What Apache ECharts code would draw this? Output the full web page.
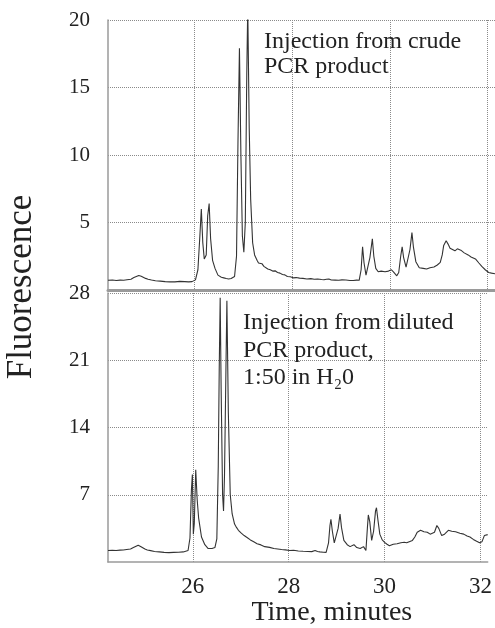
<!DOCTYPE html>
<html>
<head>
<meta charset="utf-8">
<script src="https://cdn.jsdelivr.net/npm/echarts@6/dist/echarts.min.js"></script>
<style>html,body{margin:0;padding:0;background:#fff}#c{width:495px;height:628px}</style>
</head>
<body>
<div id="c"></div>
<script>
// ---- data ----
const xRange = [24.23, 32.15];
const topYTicks = [5, 10, 15, 20];
const bottomYTicks = [7, 14, 21, 28];
const xTickLabels = [26, 28, 30, 32];

const crudeTime = [24.23,24.32,24.40,24.48,24.55,24.62,24.70,24.76,24.80,24.86,24.91,24.95,25.00,25.05,25.12,25.20,25.30,25.40,25.50,25.60,25.70,25.80,25.88,25.95,26.02,26.07,26.11,26.14,26.17,26.20,26.24,26.27,26.30,26.33,26.37,26.42,26.48,26.55,26.60,26.65,26.70,26.75,26.82,26.86,26.89,26.92,26.95,26.98,27.01,27.04,27.07,27.09,27.12,27.15,27.19,27.23,27.28,27.31,27.34,27.38,27.42,27.46,27.50,27.55,27.60,27.65,27.70,27.75,27.80,27.85,27.90,27.96,28.02,28.08,28.15,28.22,28.30,28.38,28.45,28.52,28.60,28.65,28.70,28.75,28.80,28.88,28.95,29.02,29.10,29.18,29.25,29.32,29.37,29.41,29.44,29.47,29.51,29.55,29.59,29.64,29.67,29.71,29.76,29.82,29.86,29.90,29.97,30.03,30.08,30.14,30.18,30.22,30.25,30.28,30.33,30.37,30.41,30.45,30.48,30.53,30.60,30.64,30.68,30.75,30.78,30.82,30.86,30.90,30.97,31.03,31.07,31.10,31.15,31.19,31.23,31.28,31.33,31.38,31.42,31.45,31.52,31.56,31.60,31.66,31.70,31.75,31.82,31.88,31.95,32.02,32.08,32.15];
const crudeValue = [0.72,0.74,0.70,0.73,0.72,0.76,0.80,0.92,1.00,1.08,1.02,0.95,0.86,0.80,0.74,0.68,0.66,0.62,0.60,0.60,0.64,0.62,0.60,0.62,0.75,1.5,4.0,6.0,3.5,2.3,2.6,5.5,6.4,3.8,2.2,1.6,1.1,0.95,0.90,0.85,0.82,0.85,1.0,2.5,11.0,17.9,10.0,4.0,2.8,5.0,16.0,21.0,12.0,6.7,3.5,2.6,2.2,2.0,1.9,1.95,1.75,1.7,1.55,1.5,1.4,1.42,1.3,1.25,1.15,1.12,1.0,0.98,0.9,0.92,0.88,0.86,0.82,0.84,0.80,0.82,0.78,0.76,0.80,0.82,0.74,0.73,0.72,0.75,0.74,0.70,0.70,0.73,0.72,1.5,3.2,2.0,1.1,1.2,2.4,3.8,2.5,1.6,1.35,1.4,1.45,1.35,1.4,1.5,1.3,1.05,1.3,2.5,3.2,2.4,1.7,1.8,3.0,4.25,3.2,2.1,1.65,1.62,1.6,1.55,1.62,1.65,1.6,1.7,1.85,2.05,2.6,3.3,3.65,3.4,3.1,3.0,2.9,3.05,2.98,2.95,2.75,2.78,2.6,2.45,2.5,2.3,2.0,1.75,1.5,1.3,1.25,1.2];

const dilutedTime = [24.23,24.32,24.40,24.48,24.55,24.62,24.70,24.76,24.80,24.86,24.91,24.95,25.00,25.05,25.12,25.20,25.30,25.40,25.50,25.60,25.70,25.80,25.90,25.94,25.97,25.99,26.01,26.03,26.06,26.09,26.12,26.18,26.25,26.32,26.40,26.46,26.50,26.53,26.55,26.57,26.59,26.62,26.64,26.66,26.69,26.71,26.74,26.78,26.82,26.87,26.91,26.95,27.01,27.07,27.13,27.20,27.27,27.34,27.42,27.50,27.60,27.69,27.77,27.85,27.93,28.02,28.10,28.20,28.30,28.40,28.48,28.55,28.60,28.65,28.72,28.78,28.83,28.86,28.88,28.91,28.95,28.99,29.03,29.07,29.10,29.15,29.22,29.28,29.32,29.36,29.42,29.49,29.56,29.61,29.64,29.66,29.69,29.73,29.77,29.81,29.83,29.86,29.90,29.95,30.00,30.05,30.10,30.14,30.18,30.22,30.26,30.30,30.34,30.41,30.46,30.50,30.58,30.63,30.68,30.72,30.75,30.82,30.89,30.95,30.99,31.04,31.09,31.13,31.19,31.25,31.29,31.33,31.40,31.44,31.48,31.57,31.65,31.72,31.78,31.85,31.92,31.98,32.03,32.08,32.12,32.15];
const dilutedValue = [1.2,1.22,1.2,1.24,1.25,1.3,1.35,1.5,1.65,1.75,1.62,1.5,1.35,1.25,1.18,1.1,1.05,1.0,0.98,1.0,1.02,1.05,1.2,2.5,7.5,9.1,2.9,4.0,9.6,6.5,4.6,2.6,1.8,1.4,1.4,1.5,2.4,10.0,20.0,27.5,18.0,7.0,5.3,9.0,20.0,27.2,15.6,7.0,5.0,3.95,3.6,3.3,3.0,2.75,2.55,2.3,2.1,1.9,1.78,1.6,1.52,1.4,1.36,1.3,1.26,1.2,1.22,1.15,1.12,1.1,1.08,1.2,1.1,1.05,1.02,1.0,2.0,3.8,4.45,3.2,2.0,1.9,3.5,5.0,3.6,2.25,1.8,1.6,1.5,1.8,1.5,1.4,1.6,1.2,3.5,4.9,4.2,2.25,3.2,5.3,5.65,4.4,2.9,2.3,2.05,1.85,1.7,1.8,1.85,1.75,1.9,1.95,2.0,2.05,2.0,2.1,2.25,2.6,3.1,3.2,3.3,3.15,3.1,2.9,2.75,3.1,3.8,3.5,2.75,2.9,3.05,3.3,3.2,3.25,3.15,3.0,2.9,2.7,2.6,2.35,2.15,2.0,2.1,2.75,2.9,2.85];

const topNote = 'Injection from crude\nPCR product';
const bottomNote = 'Injection from diluted\nPCR product,\n1:50 in H\u20820';
const yName = 'Fluorescence';
const xName = 'Time, minutes';

// ---- chart ----
const FONT = 'Liberation Serif';
const pair = (t, v) => t.map((x, i) => [x, v[i]]);
const gridCol = '#8a8a8a';
const axisCol = '#9a9a9a';

const xCommon = {
  type: 'value', min: xRange[0], max: xRange[1], splitNumber: 4,
  axisTick: { show: false },
  splitLine: { show: true, showMinLine: false, showMaxLine: false,
    lineStyle: { type: 'dotted', color: gridCol, width: 1 } }
};
const labelFmt = (ticks) => (v) => ticks.indexOf(Math.round(v * 1000) / 1000) >= 0 ? String(v) : '';

const chart = echarts.init(document.getElementById('c'), null, { renderer: 'canvas' });
chart.setOption({
  animation: false,
  backgroundColor: '#fff',
  title: [
    { text: topNote, left: 264, top: 29, padding: 0,
      textStyle: { fontFamily: FONT, fontSize: 24, fontWeight: 'normal', color: '#222', lineHeight: 25 } },
    { text: bottomNote, left: 243, top: 309, padding: 0,
      textStyle: { fontFamily: FONT, fontSize: 24, fontWeight: 'normal', color: '#222', lineHeight: 27.5 } }
  ],
  graphic: [
    { type: 'text', x: 22, y: 287, rotation: Math.PI / 2,
      style: { text: yName, fontFamily: FONT, fontSize: 35, fill: '#222',
        textAlign: 'center', textVerticalAlign: 'middle' } }
  ],
  grid: [
    { left: 108, top: 20, right: 0, height: 270 },
    { left: 108, top: 293, right: 0, height: 269 }
  ],
  xAxis: [
    Object.assign({}, xCommon, { gridIndex: 0,
      axisLine: { show: true, lineStyle: { color: axisCol, width: 3 } },
      axisLabel: { show: false } }),
    Object.assign({}, xCommon, { gridIndex: 1,
      axisLine: { show: true, lineStyle: { color: axisCol, width: 1.5 } },
      axisLabel: { show: true, showMinLabel: false, showMaxLabel: false, margin: 13,
        fontFamily: FONT, fontSize: 23, color: '#222', formatter: labelFmt(xTickLabels) },
      name: xName, nameLocation: 'middle', nameGap: 29,
      nameTextStyle: { fontFamily: FONT, fontSize: 28, color: '#222', padding: [0, 0, 0, 68] } })
  ],
  yAxis: [
    { type: 'value', gridIndex: 0, min: 0, max: 20, interval: 5,
      axisLine: { show: true, lineStyle: { color: axisCol, width: 1.5 } },
      axisTick: { show: false },
      axisLabel: { showMinLabel: false, margin: 18, fontFamily: FONT, fontSize: 21, color: '#222',
        formatter: labelFmt(topYTicks) },
      splitLine: { show: true, showMinLine: false, lineStyle: { type: 'dotted', color: gridCol, width: 1 } } },
    { type: 'value', gridIndex: 1, min: 0, max: 28, interval: 7,
      axisLine: { show: true, lineStyle: { color: axisCol, width: 1.5 } },
      axisTick: { show: false },
      axisLabel: { showMinLabel: false, margin: 18, fontFamily: FONT, fontSize: 21, color: '#222',
        formatter: labelFmt(bottomYTicks) },
      splitLine: { show: true, showMinLine: false, lineStyle: { type: 'dotted', color: gridCol, width: 1 } } }
  ],
  series: [
    { type: 'line', xAxisIndex: 0, yAxisIndex: 0, data: pair(crudeTime, crudeValue),
      showSymbol: false, symbol: 'none', clip: true,
      lineStyle: { color: '#333', width: 1.1 } },
    { type: 'line', xAxisIndex: 1, yAxisIndex: 1, data: pair(dilutedTime, dilutedValue),
      showSymbol: false, symbol: 'none', clip: true,
      lineStyle: { color: '#333', width: 1.1 } }
  ]
});
</script>
</body>
</html>
